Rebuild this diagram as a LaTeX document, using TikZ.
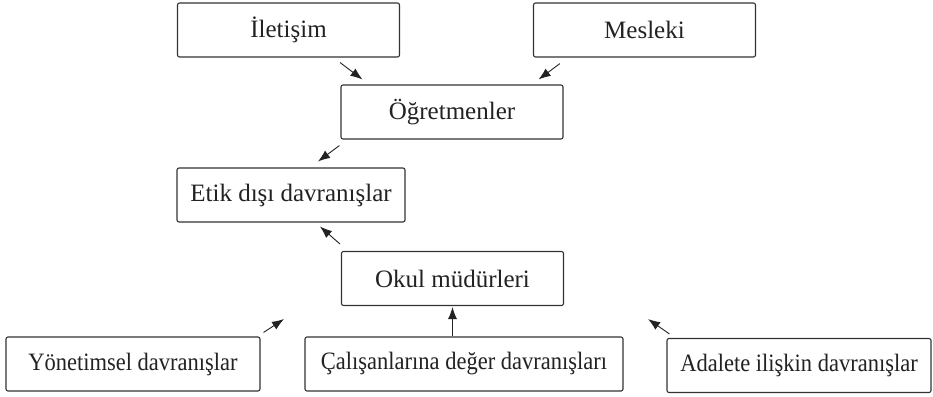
\documentclass[tikz,border=0pt]{standalone}
\usepackage{fontspec}
\setmainfont{Liberation Serif}
\newfontfamily\condfont[FakeStretch=0.9]{Liberation Serif}
\usepackage{xcolor}
\usepackage{tikz}
\usetikzlibrary{calc,arrows.meta}
\definecolor{bg}{HTML}{FFFFFF}
\definecolor{edge}{HTML}{333333}
\definecolor{text}{HTML}{222222}
\tikzset{
  box/.style={draw=edge, line width=1.1pt, rounded corners=2pt, fill=bg,
    text=text, font=\fontsize{25}{29}\selectfont, minimum width=222pt,
    minimum height=54pt, inner sep=0pt, align=center},
  lowbox/.style={box, font=\condfont\fontsize{25}{29}\selectfont},
  arr/.style={draw=text, line width=0.9pt, -{Latex[length=12pt,width=9pt]}},
}
\begin{document}
\begin{tikzpicture}[x=1pt,y=-1pt]
  \useasboundingbox[fill=bg] (0,0) rectangle (933,396);
  % upper row
  \node[box] (ilet) at (288.5,30) {İletişim};
  \node[box] (mesl) at (644.5,30) {Mesleki};
  \node[box] (ogr)  at (452,112) {Öğretmenler};
  \node[box, minimum width=228pt] (etik) at (291,195) {Etik dışı davranışlar};
  \node[box] (okul) at (452.5,278.5) {Okul müdürleri};
  % lower row
  \node[lowbox, minimum width=254pt] (yon) at (133,364) {Yönetimsel davranışlar};
  \node[lowbox, minimum width=318pt] (cal) at (464,364) {Çalışanlarına değer davranışları};
  \node[lowbox, minimum width=264pt] (adl) at (799,365.5) {Adalete ilişkin davranışlar};
  % arrows
  \draw[arr] ($(ilet.south)+(51.5,5)$) -- ($(ogr.north west)+(22,-5)$);
  \draw[arr] ($(mesl.south west)+(27,6)$) -- ($(ogr.north east)+(-25,-5)$);
  \draw[arr] ($(ogr.south west)+(-1,6)$) -- ($(etik.north)+(27,-6)$);
  \draw[arr] ($(okul.north west)+(-1,-7)$) -- ($(etik.south)+(29,4)$);
  \draw[arr] ($(yon.north east)+(3,-4)$) -- ($(okul.south west)+(-57,13)$);
  \draw[arr] (okul.south |- cal.north) -- ($(okul.south)+(0,1)$);
  \draw[arr] ($(adl.north west)+(3,-4)$) -- ($(okul.south east)+(84,13)$);
\end{tikzpicture}
\end{document}
